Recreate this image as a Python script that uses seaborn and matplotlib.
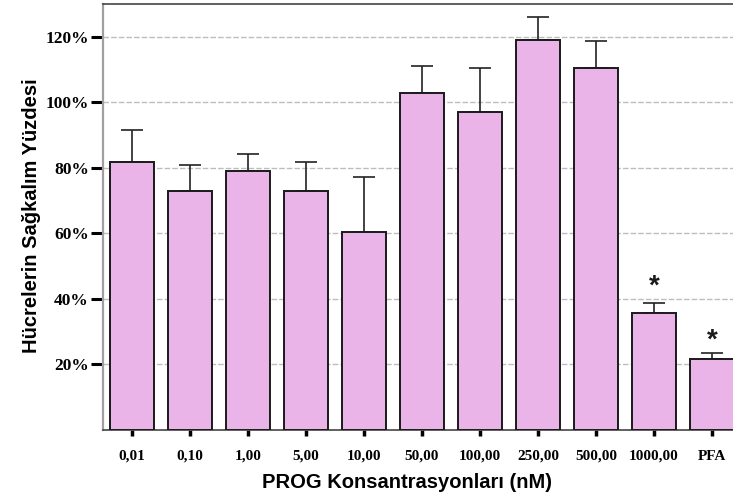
import matplotlib
matplotlib.use("Agg")
import matplotlib.pyplot as plt
import seaborn as sns
import pandas as pd
import numpy as np

categories = ["0,01", "0,10", "1,00", "5,00", "10,00", "50,00", "100,00",
              "250,00", "500,00", "1000,00", "PFA"]
means = [81.7, 72.8, 79.0, 72.8, 60.5, 102.8, 97.0, 119.0, 110.5, 35.8, 21.8]
errors = [9.9, 8.1, 5.3, 8.9, 16.7, 8.2, 13.6, 6.9, 8.1, 3.0, 1.8]
# asterisk marks (significance) and their heights in %
star_heights = [None] * 9 + [44.8, 28.1]
yticks = [20, 40, 60, 80, 100, 120]

df = pd.DataFrame({"cat": categories, "val": means})

sns.set_theme(style="white")
plt.rcParams["font.family"] = ["DejaVu Sans"]
plt.rcParams["text.color"] = "black"
plt.rcParams["xtick.color"] = "black"
plt.rcParams["ytick.color"] = "black"

fig = plt.figure(figsize=(7.33, 5.04), dpi=100)
ax = fig.add_axes([103 / 733, 74 / 504, 638 / 733, 426 / 504])

fill = "#EAB4E8"
sns.barplot(data=df, x="cat", y="val", order=categories, color=fill,
            saturation=1, width=0.76, edgecolor="#1a1a1a", linewidth=1.4,
            errorbar=None, ax=ax, zorder=3)

xs = np.arange(len(categories))
ax.errorbar(xs, means, yerr=[np.zeros(len(errors)), errors], fmt="none",
            ecolor="#222222", elinewidth=1.2, capsize=8, capthick=1.2, zorder=2)

for x, h in zip(xs, star_heights):
    if h is not None:
        ax.text(x, h, "*", ha="center", va="center_baseline",
                fontsize=20, fontweight="bold", family="Liberation Sans", color="#1a1a1a")

ax.set_xlim(-0.5, len(categories) - 0.5)
ax.set_ylim(0, 130)
ax.set_yticks(yticks)
ax.set_yticklabels([f"{t}%" for t in yticks])
ax.yaxis.grid(True, linestyle=(0, (4, 1.5)), color="#bdbdbd", linewidth=1.0, zorder=0)
ax.xaxis.grid(False)
ax.set_axisbelow(True)

ax.tick_params(axis="y", which="major", length=8.6, width=2.2, color="black",
               labelcolor="black", direction="out", pad=1.5, left=True)
ax.tick_params(axis="x", which="major", length=4.3, width=2.5, color="black",
               labelcolor="black", direction="out", pad=10, bottom=True)
for lab in ax.get_yticklabels():
    lab.set_fontfamily("Liberation Serif")
    lab.set_fontweight("bold")
    lab.set_fontsize(12.5)
for lab in ax.get_xticklabels():
    lab.set_fontfamily("Liberation Serif")
    lab.set_fontweight("bold")
    lab.set_fontsize(11)

ax.spines["left"].set_color("#a0a0a0")
ax.spines["left"].set_linewidth(1.6)
ax.spines["top"].set_color("#444444")
ax.spines["top"].set_linewidth(1.2)
ax.spines["bottom"].set_color("#444444")
ax.spines["bottom"].set_linewidth(1.2)
ax.spines["right"].set_visible(False)

ax.set_xlabel("")
ax.set_ylabel("")
fig.text(407 / 733, 1 - 483 / 504, "PROG Konsantrasyonları (nM)", ha="center", va="center",
         fontsize=14.5, fontweight="bold", family="Liberation Sans", color="black")
fig.text(32 / 733, 1 - 216 / 504, "Hücrelerin Sağkalım Yüzdesi", ha="center", va="center",
         rotation=90, fontsize=14.5, fontweight="bold", family="Liberation Sans", color="black")

fig.savefig("out.png", dpi=100)
